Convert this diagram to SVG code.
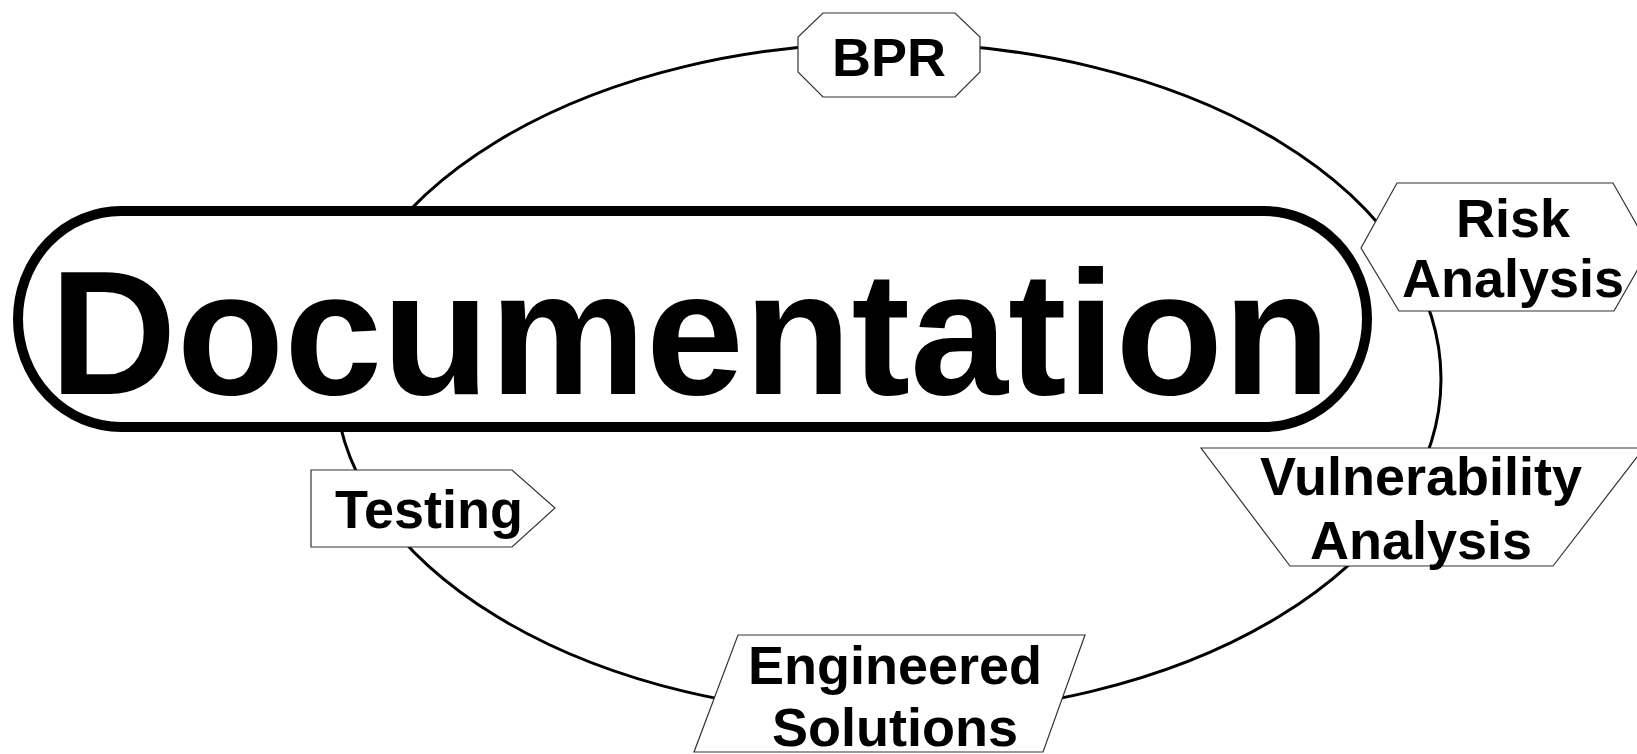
<svg xmlns="http://www.w3.org/2000/svg" width="1637" height="754" viewBox="0 0 1637 754">
<style>
.lbl{font-family:"Liberation Sans",Arial,sans-serif;font-weight:bold;font-size:54px;fill:#000;text-anchor:middle}
.shape{fill:#fff;stroke:#333;stroke-width:1.2}
.ring{fill:none;stroke:#000;stroke-width:3}
</style>
<rect width="1637" height="754" fill="#fff"/>
<g id="connectors">
<ellipse class="ring" cx="888" cy="379" rx="553" ry="336"/>
</g>
<g id="documentation">
<rect x="18" y="211" width="1349" height="216" rx="103" ry="108" fill="#fff" stroke="#000" stroke-width="10"/>
<text x="690" y="394" font-family="Liberation Sans, Arial, sans-serif" font-weight="bold" font-size="176" text-anchor="middle">Documentation</text>
</g>
<g id="bpr">
<polygon class="shape" points="823,13 955,13 980,37 980,72 955,97 823,97 798,72 798,37"/>
<text class="lbl" x="889" y="76">BPR</text>
</g>
<g id="risk-analysis">
<polygon class="shape" points="1397,183 1613,183 1650,248 1614,311 1399,311 1361,248"/>
<text class="lbl" x="1513" y="237">Risk</text>
<text class="lbl" x="1513" y="297">Analysis</text>
</g>
<g id="vulnerability-analysis">
<polygon class="shape" points="1201,448 1644,448 1553,566 1290,566"/>
<text class="lbl" x="1421" y="495">Vulnerability</text>
<text class="lbl" x="1421" y="559">Analysis</text>
</g>
<g id="engineered-solutions">
<polygon class="shape" points="738,635 1085,635 1043,752 694,752"/>
<text class="lbl" x="895" y="684">Engineered</text>
<text class="lbl" x="895" y="746">Solutions</text>
</g>
<g id="testing">
<polygon class="shape" points="311,470 512,470 555,508 512,547 311,547"/>
<text class="lbl" x="429" y="528">Testing</text>
</g>
</svg>
